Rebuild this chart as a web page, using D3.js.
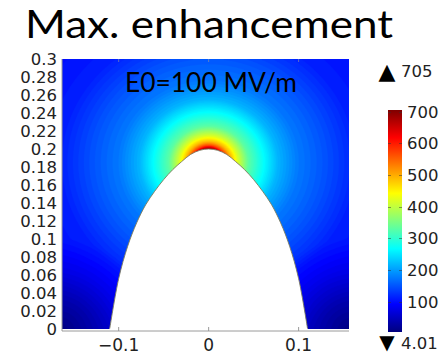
<!DOCTYPE html>
<html>
<head>
<meta charset="utf-8">
<script src="https://cdn.jsdelivr.net/npm/d3@7"></script>
<style>
  body { margin: 0; background: #fff; }
  svg { display: block; }
</style>
</head>
<body>
<svg id="chart" width="442" height="355"></svg>
<script>
// ticks
var xTicks = [-0.1, 0, 0.1];
var yTicks = [0, 0.02, 0.04, 0.06, 0.08, 0.1, 0.12, 0.14, 0.16, 0.18, 0.2, 0.22, 0.24, 0.26, 0.28, 0.3];
var cbTicks = [100, 200, 300, 400, 500, 600, 700];
var vMin = 4.01, vMax = 705;

// tip outline: half width and height, from the apex down to the base
var tipHalf = [0, 0.01, 0.02, 0.03, 0.04, 0.05, 0.06, 0.07, 0.08, 0.09, 0.1, 0.11];
var tipY = [0.2, 0.1985, 0.194, 0.186, 0.177, 0.166, 0.153, 0.138, 0.118, 0.092, 0.056, 0];

// field vs distance from the point just below the apex
var fieldDist = [0.015, 0.0175, 0.022, 0.029, 0.04, 0.055, 0.07, 0.09, 0.115, 0.15, 0.19, 0.22, 0.25];
var fieldVal = [705, 590, 500, 420, 330, 270, 215, 175, 150, 112, 100, 80, 50];
// darkening towards the two lower corners
var cornerDist = [0, 0.03, 0.065, 0.1];
var cornerGain = [0.12, 0.4, 0.75, 1];

// rainbow colour map
var cmapPos = [0, 0.125, 0.375, 0.625, 0.875, 1];
var cmapCol = ['#00007f', '#0000ff', '#00ffff', '#ffff00', '#ff0000', '#7f0000'];

var svg = d3.select('#chart');
var x0 = 62, x1 = 349, y0 = 59, y1 = 329;

var x = d3.scaleLinear().domain([-0.163, 0.156]).range([x0, x1]);
var y = d3.scaleLinear().domain([0, 0.3]).range([y1, y0]);

var color = d3.scaleLinear()
  .domain(cmapPos.map(function(p) { return vMin + p * (vMax - vMin); }))
  .range(cmapCol)
  .clamp(true);

var radial = d3.scaleLinear().domain(fieldDist).range(fieldVal).clamp(true);
var corner = d3.scaleLinear().domain(cornerDist).range(cornerGain).clamp(true);
var centre = [0, 0.185];
var corners = [x.domain()[0], x.domain()[1]];

function field(px, py) {
  var dx = (px - centre[0]) / 1.1, dy = py - centre[1];
  var v = radial(Math.sqrt(dx * dx + dy * dy));
  var dc = d3.min(corners, function(cx) { return Math.hypot(px - cx, py); });
  return v * corner(dc);
}

// field grid
var cell = 2;
var nx = Math.ceil((x1 - x0) / cell), ny = Math.ceil((y1 - y0) / cell);
var values = new Array(nx * ny);
for (var j = 0; j < ny; j++) {
  for (var i = 0; i < nx; i++) {
    values[j * nx + i] = field(x.invert(x0 + (i + 0.5) * cell), y.invert(y0 + (j + 0.5) * cell));
  }
}
var levels = d3.range(0, 712, 6);
var contours = d3.contours().size([nx, ny]).thresholds(levels)(values);
var geo = d3.geoPath(d3.geoIdentity().scale(cell).translate([x0, y0]));

svg.append('clipPath').attr('id', 'plotclip')
  .append('rect')
    .attr('x', x0).attr('y', y0)
    .attr('width', x1 - x0).attr('height', y1 - y0);

var plot = svg.append('g').attr('clip-path', 'url(#plotclip)');
plot.append('rect')
  .attr('x', x0).attr('y', y0)
  .attr('width', x1 - x0).attr('height', y1 - y0)
  .attr('fill', color(vMin));
plot.selectAll('path.band')
  .data(contours)
  .enter().append('path')
    .attr('class', 'band')
    .attr('d', geo)
    .attr('fill', function(c) { return color(c.value + 3); })
    .attr('stroke', function(c) { return color(c.value + 3); })
    .attr('stroke-width', 0.3);

// the tip itself
var rightSide = tipHalf.map(function(h, k) { return [h, tipY[k]]; });
var leftSide = rightSide.slice(1).reverse().map(function(p) { return [-p[0], p[1]]; });
var tipPts = leftSide.concat(rightSide);
var tipLine = d3.line()
  .x(function(d) { return x(d[0]); })
  .y(function(d) { return y(d[1]); })
  .curve(d3.curveCatmullRom.alpha(0.5));
plot.append('path')
  .attr('d', tipLine(tipPts))
  .attr('fill', '#fff')
  .attr('stroke', '#7b7a5e')
  .attr('stroke-width', 0.9);
// cover the bottom of the tip
plot.append('rect')
  .attr('x', x(-tipHalf[tipHalf.length - 1])).attr('y', y(0) - 0.5)
  .attr('width', x(tipHalf[tipHalf.length - 1]) - x(-tipHalf[tipHalf.length - 1])).attr('height', 3)
  .attr('fill', '#fff');

// frame
svg.append('line')
  .attr('x1', x0).attr('x2', x0).attr('y1', y0).attr('y2', y1 + 2)
  .attr('stroke', '#9a9a9a').attr('stroke-width', 1);
svg.append('line')
  .attr('x1', x0).attr('x2', x1).attr('y1', y1 + 2).attr('y2', y1 + 2)
  .attr('stroke', '#9a9a9a').attr('stroke-width', 1);

// x axis
svg.selectAll('line.xt')
  .data(xTicks)
  .enter().append('line')
    .attr('class', 'xt')
    .attr('x1', function(d) { return x(d); }).attr('x2', function(d) { return x(d); })
    .attr('y1', y1 + 2).attr('y2', y1 - 2)
    .attr('stroke', '#9a9a9a');
svg.selectAll('line.xtt')
  .data(xTicks)
  .enter().append('line')
    .attr('class', 'xtt')
    .attr('x1', function(d) { return x(d); }).attr('x2', function(d) { return x(d); })
    .attr('y1', y0).attr('y2', y0 + 3)
    .attr('stroke', '#9a9a9a').attr('opacity', 0.6);
svg.selectAll('text.xl')
  .data(xTicks)
  .enter().append('text')
    .attr('class', 'xl')
    .attr('x', function(d) { return x(d); })
    .attr('y', 351)
    .attr('text-anchor', 'middle')
    .style('font-family', 'DejaVu Sans')
    .style('font-size', '17px')
    .style('fill', '#222')
    .text(function(d) { return d === 0 ? '0' : d3.format('.1f')(d); });

// y axis
svg.selectAll('text.yl')
  .data(yTicks)
  .enter().append('text')
    .attr('class', 'yl')
    .attr('x', 57)
    .attr('y', function(d) { return y(d); })
    .attr('dy', '0.36em')
    .attr('text-anchor', 'end')
    .style('font-family', 'DejaVu Sans')
    .style('font-size', '16.5px')
    .style('fill', '#222')
    .text(function(d) { return d3.format('~g')(+d.toFixed(2)); });

// colour bar
var cbX = 388, cbW = 14, cbTop = 110, cbBot = 332;
var cb = d3.scaleLinear().domain([vMin, vMax]).range([cbBot, cbTop]);
var grad = svg.append('defs').append('linearGradient')
  .attr('id', 'cbgrad')
  .attr('x1', 0).attr('x2', 0).attr('y1', 1).attr('y2', 0);
grad.selectAll('stop')
  .data(cmapPos)
  .enter().append('stop')
    .attr('offset', function(d) { return d; })
    .attr('stop-color', function(d, k) { return cmapCol[k]; });
svg.append('rect')
  .attr('x', cbX).attr('y', cbTop)
  .attr('width', cbW).attr('height', cbBot - cbTop)
  .attr('fill', 'url(#cbgrad)');
svg.selectAll('path.cbt')
  .data(cbTicks)
  .enter().append('path')
    .attr('class', 'cbt')
    .attr('d', function(d) {
      var yy = Math.round(cb(d)) + 0.5;
      return 'M' + cbX + ',' + yy + 'h3M' + (cbX + cbW) + ',' + yy + 'h-3';
    })
    .attr('stroke', '#333').attr('opacity', 0.5);
svg.selectAll('text.cbl')
  .data(cbTicks)
  .enter().append('text')
    .attr('class', 'cbl')
    .attr('x', 407)
    .attr('y', function(d) { return cb(d); })
    .attr('dy', '0.36em')
    .style('font-family', 'DejaVu Sans')
    .style('font-size', '16.5px')
    .style('fill', '#222')
    .text(function(d) { return d; });

// max / min markers
svg.append('text')
  .attr('x', 387).attr('y', 71).attr('dy', '0.36em')
  .attr('text-anchor', 'middle')
  .style('font-family', 'DejaVu Sans').style('font-size', '22px')
  .text('\u25B2');
svg.append('text')
  .attr('x', 401).attr('y', 71).attr('dy', '0.36em')
  .style('font-family', 'DejaVu Sans').style('font-size', '16.5px').style('fill', '#222')
  .text(d3.format('d')(vMax));
svg.append('text')
  .attr('x', 387).attr('y', 342).attr('dy', '0.34em')
  .attr('text-anchor', 'middle')
  .style('font-family', 'DejaVu Sans').style('font-size', '20px')
  .text('\u25BC');
svg.append('text')
  .attr('x', 401).attr('y', 343).attr('dy', '0.36em')
  .style('font-family', 'DejaVu Sans').style('font-size', '16.5px').style('fill', '#222')
  .text(d3.format('.2f')(vMin));

// titles
svg.append('text')
  .attr('x', 25).attr('y', 38)
  .attr('textLength', 368).attr('lengthAdjust', 'spacingAndGlyphs')
  .style('font-family', 'Lato').style('font-size', '38px').style('fill', '#000')
  .text('Max. enhancement');
svg.append('text')
  .attr('x', 125).attr('y', 92)
  .attr('textLength', 172).attr('lengthAdjust', 'spacingAndGlyphs')
  .style('font-family', 'Lato').style('font-size', '27px').style('fill', '#000')
  .text('E0=100 MV/m');
</script>
</body>
</html>
